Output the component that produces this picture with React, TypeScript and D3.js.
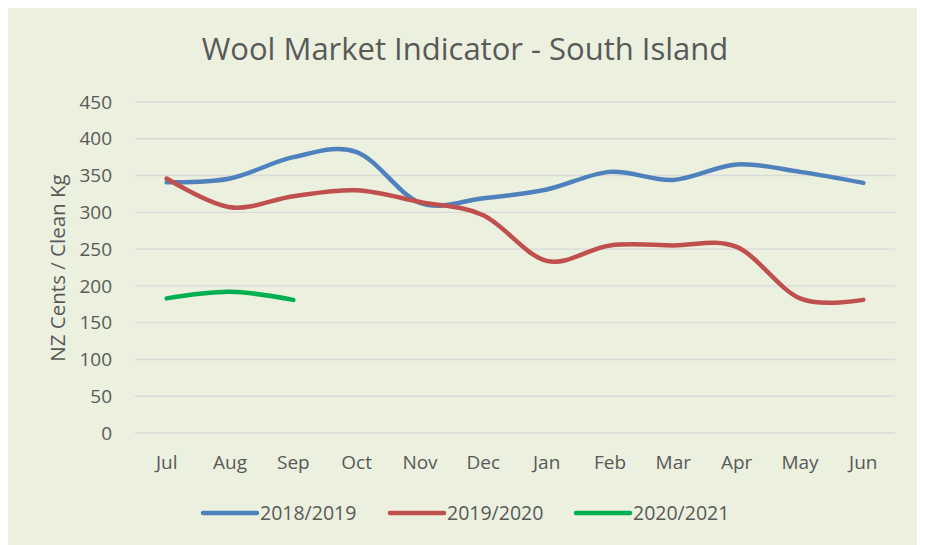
import React from 'react';
import * as d3 from 'd3';

const months = ['Jul', 'Aug', 'Sep', 'Oct', 'Nov', 'Dec', 'Jan', 'Feb', 'Mar', 'Apr', 'May', 'Jun'];
const season1819 = [341, 346, 375, 382, 313, 319, 331, 355, 344, 365, 355, 340];
const season1920 = [346, 307, 322, 330, 314, 296, 234, 255, 255, 253, 183, 181];
const season2021 = [183, 192, 181];
const yTicks = [0, 50, 100, 150, 200, 250, 300, 350, 400, 450];

const seriesNames = ['2018/2019', '2019/2020', '2020/2021'];
const seriesColors = ['#4F81BD', '#C0504D', '#00B050'];

const W = 930;
const H = 545;
// plot area is fixed in page terms; the background just runs past the window edge
const plot = { left: 127, right: 887, top: 94, bottom: 425 };
const font = "'Open Sans', sans-serif";
const textColor = '#595959';

const App = () => {
  const x = d3.scaleBand<string>().domain(months).range([plot.left, plot.right]);
  const y = d3.scaleLinear().domain([0, 450]).range([plot.bottom, plot.top]);

  const line = d3
    .line<number>()
    .x((d, i) => (x(months[i]) as number) + x.bandwidth() / 2)
    .y((d) => y(d))
    .curve(d3.curveCardinal.tension(0));

  const allSeries = [season1819, season1920, season2021];

  // legend positions (left end of each swatch)
  const legendX = [195, 382, 568];
  const legendY = 505;

  return (
    <>
      <style>{'body{overflow:hidden}'}</style>
      <svg width={W} height={H} style={{ display: 'block' }}>
        <rect x={0} y={0} width={W} height={H} fill='#EBF1DE' />
        <text
          x={457}
          y={52}
          textAnchor='middle'
          fontFamily={font}
          fontSize={31}
          fill={textColor}
        >
          Wool Market Indicator - South Island
        </text>

        {yTicks.map((t) => (
          <g key={t}>
            <line
              x1={plot.left}
              x2={plot.right}
              y1={y(t)}
              y2={y(t)}
              stroke='#D9D9D9'
              strokeWidth={1.4}
            />
            <text
              x={104}
              y={y(t)}
              dy='0.35em'
              textAnchor='end'
              fontFamily={font}
              fontSize={19}
              fill={textColor}
            >
              {t}
            </text>
          </g>
        ))}

        {months.map((m) => (
          <text
            key={m}
            x={(x(m) as number) + x.bandwidth() / 2}
            y={461}
            textAnchor='middle'
            fontFamily={font}
            fontSize={19}
            fill={textColor}
          >
            {m}
          </text>
        ))}

        <text
          transform={`translate(57, ${260}) rotate(-90)`}
          textAnchor='middle'
          fontFamily={font}
          fontSize={20.5}
          fill={textColor}
        >
          NZ Cents / Clean Kg
        </text>

        {allSeries.map((s, i) => (
          <path
            key={seriesNames[i]}
            d={line(s) || ''}
            fill='none'
            stroke={seriesColors[i]}
            strokeWidth={4.5}
            strokeLinecap='round'
            strokeLinejoin='round'
          />
        ))}

        {seriesNames.map((n, i) => (
          <g key={n}>
            <line
              x1={legendX[i]}
              x2={legendX[i] + 54}
              y1={legendY}
              y2={legendY}
              stroke={seriesColors[i]}
              strokeWidth={4.5}
              strokeLinecap='round'
            />
            <text
              x={legendX[i] + 57}
              y={legendY}
              dy='0.35em'
              fontFamily={font}
              fontSize={19.5}
              fill={textColor}
            >
              {n}
            </text>
          </g>
        ))}
      </svg>
    </>
  );
};

export default App;
